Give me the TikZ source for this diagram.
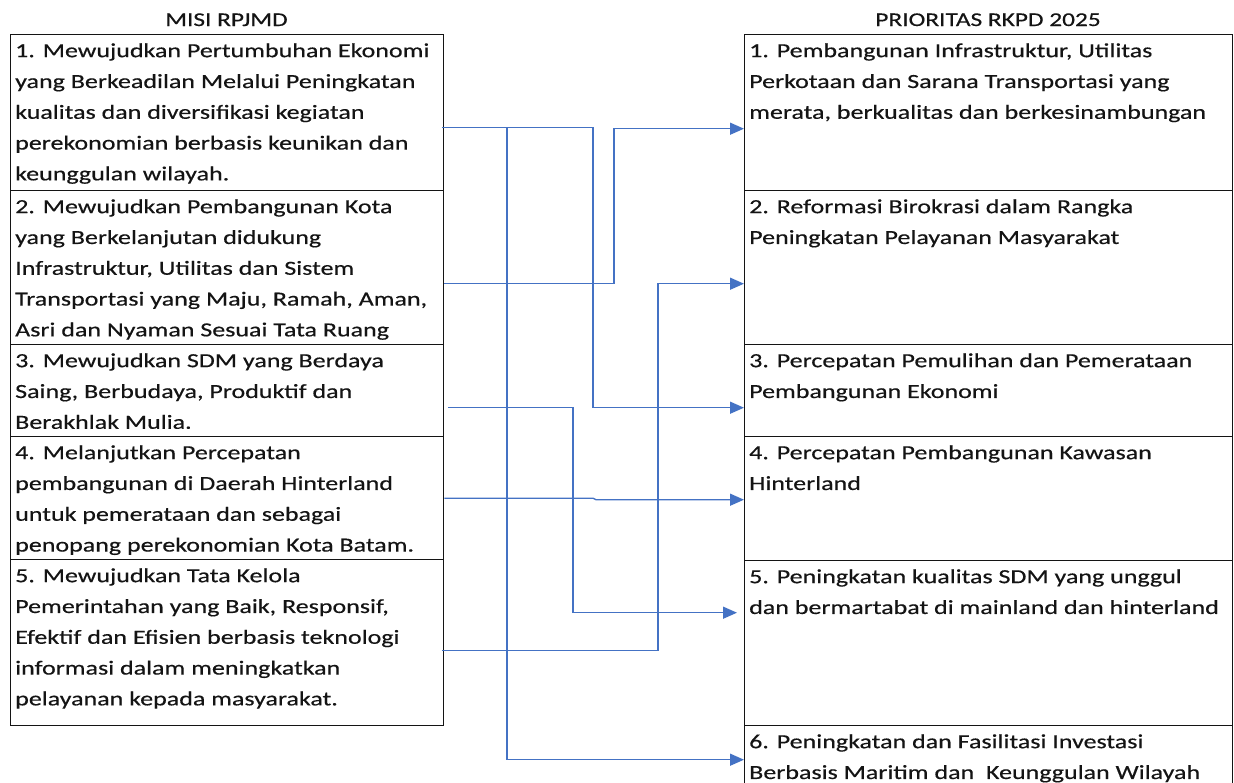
\documentclass[tikz,border=0pt]{standalone}
\usepackage{fontspec}
\setmainfont{Carlito}[FakeStretch=1.3,FakeBold=0.4]
\usetikzlibrary{arrows.meta,calc}
\definecolor{conncol}{HTML}{4472C4}
\definecolor{inkcol}{HTML}{141414}
\begin{document}
\begin{tikzpicture}[x=1pt,y=-1pt,
  boxst/.style={draw=inkcol,line width=1.4pt,anchor=north west,inner sep=0pt,minimum width=#1},
  boxst/.default=433pt,
  txt/.style={anchor=north west,inner sep=0pt,align=left,text=inkcol,font=\fontsize{20}{30.8}\selectfont},
  hdr/.style={anchor=base,inner sep=0pt,text=inkcol,font=\fontsize{19.5}{24}\selectfont},
  conn/.style={draw=conncol,line width=1.4pt,-{Triangle[length=14pt,width=12pt]}}]
\useasboundingbox (0,0) rectangle (1234,782);
\clip (0,0) rectangle (1234,782);
\fill[white] (0,0) rectangle (1234,782);
% headers
\node[hdr] (hL) at (226.5,26) {MISI RPJMD};
\node[hdr] (hR) at (988,26) {PRIORITAS RKPD 2025};
% left boxes
\node[boxst,minimum height=156pt] (L1) at (10,34) {};
\node[boxst,minimum height=154pt] (L2) at (10,190) {};
\node[boxst,minimum height=92pt] (L3) at (10,344) {};
\node[boxst,minimum height=123pt] (L4) at (10,436) {};
\node[boxst,minimum height=166pt] (L5) at (10,559) {};
% right boxes
\node[boxst=488pt,minimum height=156pt] (R1) at (744,34) {};
\node[boxst=488pt,minimum height=154pt] (R2) at (744,190) {};
\node[boxst=488pt,minimum height=92pt] (R3) at (744,344) {};
\node[boxst=488pt,minimum height=124pt] (R4) at (744,436) {};
\node[boxst=488pt,minimum height=165pt] (R5) at (744,560) {};
\node[boxst=488pt,minimum height=68pt] (R6) at (744,725) {};
% texts
\node[txt] (L1t) at ([shift={(5,1.4)}]L1.north west) {\strut 1. Mewujudkan Pertumbuhan Ekonomi\\yang Berkeadilan Melalui Peningkatan\\kualitas dan diversifikasi kegiatan\\perekonomian berbasis keunikan dan\\keunggulan wilayah.};
\node[txt] (L2t) at ([shift={(5,1.4)}]L2.north west) {\strut 2. Mewujudkan Pembangunan Kota\\yang Berkelanjutan didukung\\Infrastruktur, Utilitas dan Sistem\\Transportasi yang Maju, Ramah, Aman,\\Asri dan Nyaman Sesuai Tata Ruang};
\node[txt] (L3t) at ([shift={(5,1.4)}]L3.north west) {\strut 3. Mewujudkan SDM yang Berdaya\\Saing, Berbudaya, Produktif dan\\Berakhlak Mulia.};
\node[txt] (L4t) at ([shift={(5,1.4)}]L4.north west) {\strut 4. Melanjutkan Percepatan\\pembangunan di Daerah Hinterland\\untuk pemerataan dan sebagai\\penopang perekonomian Kota Batam.};
\node[txt] (L5t) at ([shift={(5,1.4)}]L5.north west) {\strut 5. Mewujudkan Tata Kelola\\Pemerintahan yang Baik, Responsif,\\Efektif dan Efisien berbasis teknologi\\informasi dalam meningkatkan\\pelayanan kepada masyarakat.};
\node[txt] (R1t) at ([shift={(5,1.4)}]R1.north west) {\strut 1. Pembangunan Infrastruktur, Utilitas\\Perkotaan dan Sarana Transportasi yang\\merata, berkualitas dan berkesinambungan};
\node[txt] (R2t) at ([shift={(5,1.4)}]R2.north west) {\strut 2. Reformasi Birokrasi dalam Rangka\\Peningkatan Pelayanan Masyarakat};
\node[txt] (R3t) at ([shift={(5,1.4)}]R3.north west) {\strut 3. Percepatan Pemulihan dan Pemerataan\\Pembangunan Ekonomi};
\node[txt] (R4t) at ([shift={(5,1.4)}]R4.north west) {\strut 4. Percepatan Pembangunan Kawasan\\Hinterland};
\node[txt] (R5t) at ([shift={(5,1.4)}]R5.north west) {\strut 5. Peningkatan kualitas SDM yang unggul\\dan bermartabat di mainland dan hinterland};
\node[txt] (R6t) at ([shift={(5,1.4)}]R6.north west) {\strut 6. Peningkatan dan Fasilitasi Investasi\\Berbasis Maritim dan\ \ Keunggulan Wilayah};
% ports
\coordinate (L1o) at ([shift={(-2,15)}]L1.east);
\coordinate (L2o) at ([shift={(0,16)}]L2.east);
\coordinate (L3o) at ([shift={(4,17)}]L3.east);
\coordinate (L4o) at ([shift={(0,0)}]L4.east);
\coordinate (L5o) at ([shift={(-2,8)}]L5.east);
\coordinate (R1i) at ([shift={(0,16)}]R1.west);
\coordinate (R2i) at ([shift={(0,16)}]R2.west);
\coordinate (R3i) at ([shift={(0,17)}]R3.west);
\coordinate (R4i) at ([shift={(0,1)}]R4.west);
\coordinate (R5i) at ([shift={(-7,-30.5)}]R5.west);
\coordinate (R6i) at (R6.west);
% connectors
\draw[conn] (L1o) -| (R6i -| 507,0) -- (R6i);
\draw[conn] (L1o) -| (R3i -| 593,0) -- (R3i);
\draw[conn] (L2o) -| (R1i -| 614,0) -- (R1i);
\draw[conn] (L5o) -| (R2i -| 658,0) -- (R2i);
\draw[conn] (L3o) -| (R5i -| 573,0) -- (R5i);
\draw[conn] (L4o) -- (L4o -| 593,0) -- (R4i -| 596,0) -- (R4i);
\end{tikzpicture}
\end{document}
